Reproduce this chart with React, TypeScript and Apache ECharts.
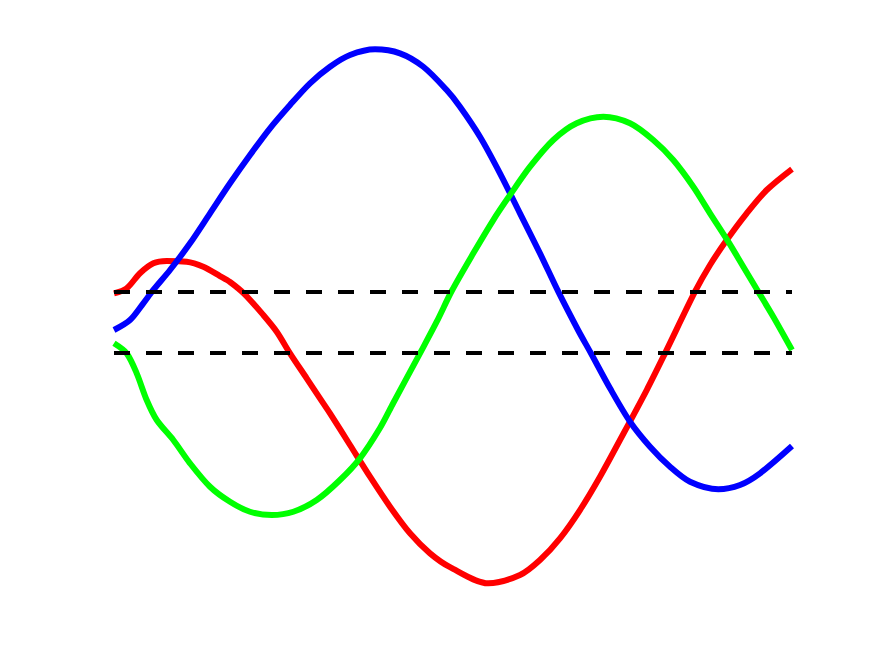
import React, { useEffect, useRef } from "react";
import * as echarts from "echarts";

// x in 0..10, y in chart units (dashed reference lines at ±0.5)
const redData: [number, number][] = [
  [0, 0.479], [0.187, 0.561], [0.383, 0.807], [0.58, 0.97], [0.777, 1.008],
  [1.072, 0.997], [1.317, 0.915], [1.563, 0.762], [1.711, 0.664], [1.932, 0.459],
  [2.202, 0.123], [2.4, -0.151], [2.596, -0.505], [2.842, -0.915], [3.038, -1.243],
  [3.186, -1.489], [3.481, -2.008], [3.776, -2.528], [4.071, -3.02], [4.366, -3.456],
  [4.661, -3.784], [4.956, -4.01], [5.521, -4.275], [5.988, -4.139], [6.283, -3.893],
  [6.578, -3.538], [6.873, -3.074], [7.168, -2.528], [7.463, -1.926], [7.857, -1.107],
  [8.127, -0.505], [8.569, 0.505], [8.791, 0.943], [9.037, 1.352], [9.332, 1.79],
  [9.627, 2.172], [10, 2.516],
];

const blueData: [number, number][] = [
  [0, -0.123], [0.236, 0.041], [0.432, 0.315], [0.58, 0.533], [0.826, 0.861],
  [1.121, 1.298], [1.416, 1.79], [1.711, 2.282], [2.006, 2.746], [2.301, 3.184],
  [2.596, 3.566], [2.891, 3.921], [3.186, 4.193], [3.481, 4.385], [3.85, 4.479],
  [4.218, 4.413], [4.562, 4.193], [4.907, 3.811], [5.103, 3.538], [5.398, 3.046],
  [5.693, 2.446], [5.988, 1.79], [6.283, 1.134], [6.553, 0.505], [6.844, -0.123],
  [7.035, -0.505], [7.316, -1.079], [7.611, -1.626], [7.906, -2.036], [8.201, -2.364],
  [8.496, -2.61], [8.913, -2.734], [9.233, -2.664], [9.528, -2.472], [10, -2.025],
];

const greenData: [number, number][] = [
  [0, -0.341], [0.187, -0.505], [0.335, -0.833], [0.482, -1.27], [0.63, -1.598],
  [0.875, -1.926], [1.121, -2.308], [1.416, -2.692], [1.711, -2.938], [2.006, -3.102],
  [2.326, -3.156], [2.645, -3.102], [2.99, -2.91], [3.333, -2.582], [3.628, -2.226],
  [3.923, -1.73], [4.119, -1.32], [4.513, -0.505], [4.76, 0.013], [4.981, 0.516],
  [5.299, 1.134], [5.594, 1.68], [5.841, 2.09], [6.136, 2.554], [6.479, 2.992],
  [6.824, 3.266], [7.217, 3.374], [7.611, 3.266], [7.954, 2.992], [8.249, 2.664],
  [8.544, 2.226], [8.791, 1.79], [9.06, 1.325], [9.282, 0.915], [9.503, 0.505],
  [9.724, 0.095], [10, -0.451],
];

const upperRef: [number, number][] = [[0, 0.5], [10, 0.5]];
const lowerRef: [number, number][] = [[0, -0.5], [10, -0.5]];

export default function App() {
  const ref = useRef<HTMLDivElement>(null);
  useEffect(() => {
    if (!ref.current) return;
    const chart = echarts.init(ref.current, undefined, { renderer: "svg" });
    const curve = (data: [number, number][], color: string) => ({
      type: "line",
      data,
      smooth: 0.3,
      showSymbol: false,
      symbol: "none",
      lineStyle: { color, width: 6, join: "round" },
    });
    const dashed = (data: [number, number][]) => ({
      type: "line",
      data,
      showSymbol: false,
      symbol: "none",
      lineStyle: { color: "#000000", width: 4, type: [16, 16], cap: "butt" },
    });
    chart.setOption({
      animation: false,
      backgroundColor: "#ffffff",
      grid: { left: 114, right: 83, top: 0, bottom: 0 },
      xAxis: { type: "value", min: 0, max: 10, show: false },
      yAxis: { type: "value", min: -5.467, max: 5.287, show: false },
      series: [
        curve(redData, "#ff0000"),
        curve(blueData, "#0000ff"),
        curve(greenData, "#00ff00"),
        dashed(upperRef),
        dashed(lowerRef),
      ],
    });
    return () => chart.dispose();
  }, []);
  return (
    <div
      ref={ref}
      style={{ position: "fixed", left: 0, top: 0, width: 875, height: 656, background: "#fff" }}
    />
  );
}
